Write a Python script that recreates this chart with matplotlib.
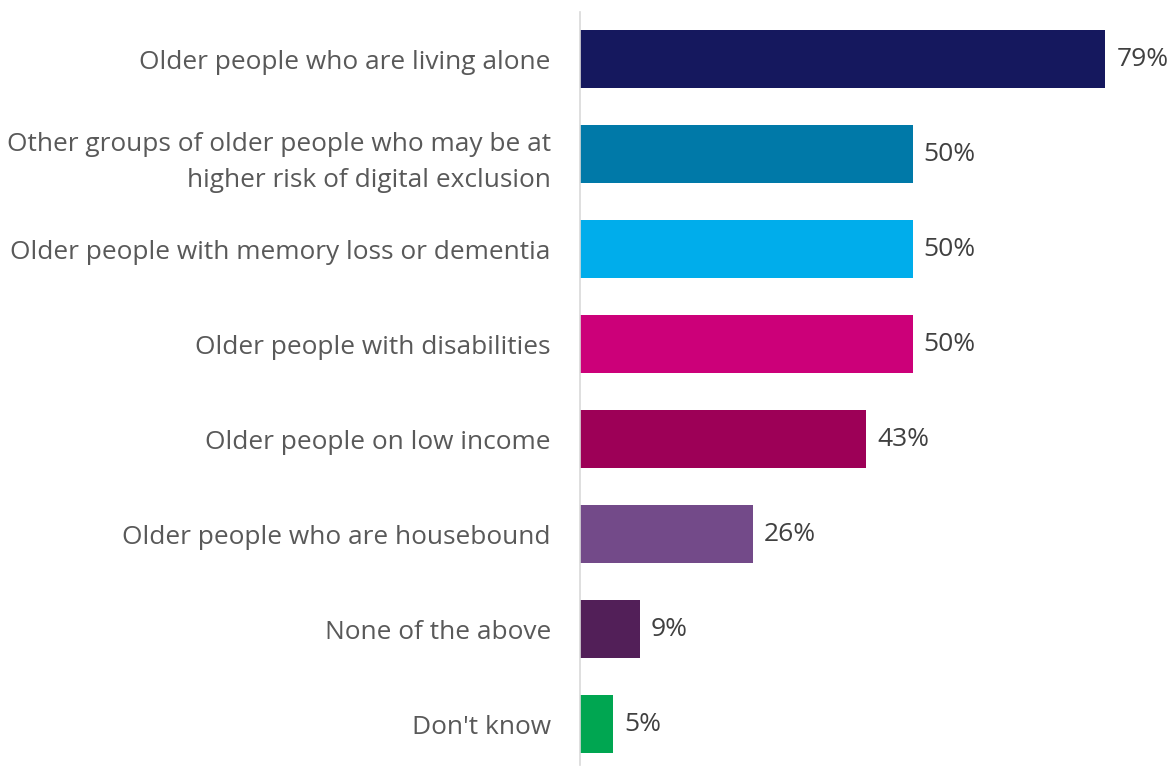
import matplotlib
matplotlib.use("Agg")
import matplotlib.pyplot as plt

categories = [
    "Older people who are living alone",
    "Other groups of older people who may be at\nhigher risk of digital exclusion",
    "Older people with memory loss or dementia",
    "Older people with disabilities",
    "Older people on low income",
    "Older people who are housebound",
    "None of the above",
    "Don't know",
]
values = [79, 50, 50, 50, 43, 26, 9, 5]
colors = ["#15185E", "#0079A8", "#00ADEB", "#CC0079", "#9D0057", "#734A89", "#521F58", "#00A651"]

W, H = 1175, 767
fig = plt.figure(figsize=(W / 100, H / 100), dpi=100)
ax = fig.add_axes([580 / W, 2 / H, (W - 580) / W, 753 / H])

y = list(range(len(categories)))
ax.barh(y, values, height=0.61, color=colors)
ax.set_ylim(7.43, -0.495)
ax.set_xlim(0, (W - 580) / 6.65)

font = "Open Sans"
ax.set_yticks(y)
ax.set_yticklabels(categories, fontsize=18.9, color="#595959", family=font, linespacing=1.58)
ax.tick_params(axis="y", length=0, pad=21)
ax.set_xticks([])
for s in ["top", "right", "bottom"]:
    ax.spines[s].set_visible(False)
ax.spines["left"].set_color("#D9D9D9")
ax.spines["left"].set_linewidth(1.2)

for yi, v in zip(y, values):
    ax.annotate(f"{v}%", (v, yi), xytext=(8, 0), textcoords="offset points",
                va="center", ha="left", fontsize=19, color="#404040", family=font)

fig.savefig("out.png", dpi=100)
